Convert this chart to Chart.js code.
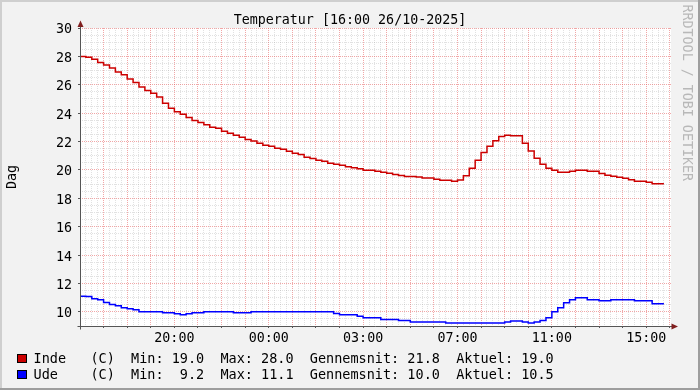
<!DOCTYPE html>
<html>
<head>
<meta charset="utf-8">
<title>Temperatur</title>
<script src="https://cdn.jsdelivr.net/npm/chart.js@4.4.1/dist/chart.umd.min.js"></script>
<style>
  html, body { margin: 0; padding: 0; background: #f2f2f2; }
  #wrap { width: 700px; height: 390px; }
</style>
</head>
<body>
<div id="wrap"><canvas id="tempChart" width="700" height="390"></canvas></div>
<script>
// one RRD step = 15 minutes, hours counted from 16:00 on 25/10
var stepHours = 0.25;

// Inde (C), one value per step
var inde = [
  28.0, 28.0, 27.93, 27.8, 27.57, 27.4, 27.18, 26.9, 26.7, 26.4,
  26.16, 25.84, 25.6, 25.4, 25.13, 24.7, 24.35, 24.1, 23.93, 23.7,
  23.48, 23.34, 23.18, 23.0, 22.93, 22.73, 22.59, 22.45, 22.3, 22.14,
  22.03, 21.88, 21.74, 21.67, 21.53, 21.46, 21.32, 21.18, 21.08, 20.9,
  20.8, 20.68, 20.61, 20.47, 20.4, 20.33, 20.23, 20.16, 20.09, 19.98,
  19.98, 19.91, 19.84, 19.77, 19.67, 19.6, 19.53, 19.53, 19.5, 19.43,
  19.43, 19.34, 19.27, 19.27, 19.2, 19.29, 19.58, 20.12, 20.68, 21.22,
  21.67, 22.05, 22.35, 22.45, 22.4, 22.4, 21.88, 21.34, 20.83, 20.4,
  20.12, 19.98, 19.84, 19.84, 19.91, 19.98, 19.98, 19.91, 19.91, 19.74,
  19.63, 19.56, 19.48, 19.41, 19.3, 19.2, 19.2, 19.13, 19.03
];

// Ude (C), one value per step
var ude = [
  10.99, 11.1, 11.08, 10.92, 10.85, 10.66, 10.52, 10.42, 10.28, 10.21,
  10.14, 10.0, 10.0, 10.0, 10.0, 9.93, 9.93, 9.86, 9.79, 9.86,
  9.93, 9.93, 10.0, 10.0, 10.0, 10.0, 10.0, 9.93, 9.93, 9.93,
  10.0, 10.0, 10.0, 10.0, 10.0, 10.0, 10.0, 10.0, 10.0, 10.0,
  10.0, 10.0, 10.0, 10.0, 9.88, 9.79, 9.79, 9.79, 9.69, 9.58,
  9.58, 9.58, 9.46, 9.46, 9.46, 9.39, 9.39, 9.29, 9.29, 9.29,
  9.29, 9.29, 9.29, 9.22, 9.22, 9.22, 9.22, 9.22, 9.22, 9.22,
  9.22, 9.22, 9.22, 9.29, 9.36, 9.36, 9.29, 9.22, 9.29, 9.39,
  9.58, 10.0, 10.28, 10.64, 10.85, 10.99, 10.99, 10.85, 10.85, 10.78,
  10.78, 10.85, 10.85, 10.85, 10.85, 10.78, 10.78, 10.78, 10.56
];

// x tick labels (clock time) at real hours after start; DST ends at 03:00
var hourLabels = ['20:00', '00:00', '03:00', '07:00', '11:00', '15:00'];
var hourLabelPos = [4, 8, 12, 16, 20, 24];
var yLabels = [10, 12, 14, 16, 18, 20, 22, 24, 26, 28, 30];

// legend: Min, Max, Gennemsnit, Aktuel
var seriesNames = ['Inde', 'Ude'];
var indeStats = [19.0, 28.0, 21.8, 19.0];
var udeStats = [9.2, 11.1, 10.0, 10.5];

var titleText = 'Temperatur [16:00 26/10-2025]';

var MONO = '"DejaVu Sans Mono", "Liberation Mono", monospace';
var MINOR = 'rgba(140,140,140,0.26)';
var MAJOR = 'rgba(228,80,80,0.5)';

function toPoints(vals) {
  var pts = vals.map(function (v, i) { return { x: i * stepHours, y: v }; });
  // close the last step
  pts.push({ x: vals.length * stepHours, y: vals[vals.length - 1] });
  return pts;
}

function fmt(v) {
  return v.toFixed(1).padStart(4);
}

function legendLine(name, s) {
  return name.padEnd(7) + '(C)  Min: ' + fmt(s[0]) + '  Max: ' + fmt(s[1]) +
    '  Gennemsnit: ' + fmt(s[2]) + '  Aktuel: ' + fmt(s[3]);
}

var rrdFrame = {
  id: 'rrdFrame',
  beforeDraw: function (chart) {
    var ctx = chart.ctx, a = chart.chartArea, W = chart.width, H = chart.height;
    ctx.save();
    ctx.fillStyle = '#f2f2f2';
    ctx.fillRect(0, 0, W, H);
    ctx.fillStyle = '#cfcfcf';
    ctx.fillRect(0, 0, W, 2);
    ctx.fillRect(0, 0, 2, H);
    ctx.fillStyle = '#9e9e9e';
    ctx.fillRect(0, H - 2, W, 2);
    ctx.fillRect(W - 2, 0, 2, H);
    ctx.fillStyle = '#ffffff';
    ctx.fillRect(a.left, a.top, a.right - a.left, a.bottom - a.top);
    ctx.restore();
  },
  afterDraw: function (chart) {
    var ctx = chart.ctx, a = chart.chartArea;
    var x0 = a.left + 0.5, y0 = a.bottom + 0.5;
    ctx.save();

    // axes
    ctx.strokeStyle = '#555';
    ctx.lineWidth = 1;
    ctx.beginPath();
    ctx.moveTo(x0, y0 + 3);
    ctx.lineTo(x0, a.top - 6);
    ctx.moveTo(x0 - 3, y0);
    ctx.lineTo(a.right + 2, y0);
    ctx.stroke();

    // arrows
    ctx.fillStyle = '#801f1f';
    ctx.beginPath();
    ctx.moveTo(x0, a.top - 7.5);
    ctx.lineTo(x0 - 3, a.top - 1);
    ctx.lineTo(x0 + 3, a.top - 1);
    ctx.closePath();
    ctx.fill();
    ctx.beginPath();
    ctx.moveTo(a.right + 7, y0);
    ctx.lineTo(a.right + 0.5, y0 - 3);
    ctx.lineTo(a.right + 0.5, y0 + 3);
    ctx.closePath();
    ctx.fill();

    // title
    ctx.fillStyle = '#000';
    ctx.font = '13.33px ' + MONO;
    ctx.textAlign = 'center';
    ctx.textBaseline = 'alphabetic';
    ctx.fillText(titleText, 350, 24);

    // vertical axis label
    ctx.save();
    ctx.translate(15.5, (a.top + a.bottom) / 2);
    ctx.rotate(-Math.PI / 2);
    ctx.fillText('Dag', 0, 0);
    ctx.restore();

    // watermark
    ctx.save();
    ctx.translate(683, 4.5);
    ctx.rotate(Math.PI / 2);
    ctx.textAlign = 'left';
    ctx.fillStyle = '#b8b8b8';
    ctx.fillText('RRDTOOL / TOBI OETIKER', 0, 0);
    ctx.restore();

    // legend
    var stats = [indeStats, udeStats];
    ctx.font = '13.5px ' + MONO;
    ctx.textAlign = 'left';
    chart.data.datasets.forEach(function (ds, r) {
      var by = 354 + r * 16;
      ctx.fillStyle = ds.borderColor;
      ctx.fillRect(17, by, 10, 9);
      ctx.strokeStyle = '#000';
      ctx.strokeRect(17.5, by + 0.5, 9, 8);
      ctx.fillStyle = '#000';
      ctx.fillText(legendLine(seriesNames[r], stats[r]), 33.5, by + 8.8);
    });
    ctx.restore();
  }
};

var ctx = document.getElementById('tempChart').getContext('2d');
var chart = new Chart(ctx, {
  type: 'line',
  data: {
    datasets: [{
      label: seriesNames[0],
      data: toPoints(inde),
      borderColor: '#cc0000',
      borderWidth: 1.5,
      stepped: 'after',
      pointRadius: 0,
      fill: false
    }, {
      label: seriesNames[1],
      data: toPoints(ude),
      borderColor: '#0000ff',
      borderWidth: 1.5,
      stepped: 'after',
      pointRadius: 0,
      fill: false
    }]
  },
  options: {
    responsive: false,
    animation: false,
    events: [],
    layout: { padding: { top: 28, right: 29, left: 0, bottom: 0 } },
    plugins: {
      legend: { display: false },
      title: { display: false },
      tooltip: { enabled: false }
    },
    scales: {
      x: {
        type: 'linear',
        min: 0,
        max: 25.05,
        afterBuildTicks: function (s) {
          var t = [];
          for (var k = 0; k <= 100; k++) t.push({ value: k * stepHours });
          s.ticks = t;
        },
        afterFit: function (s) { s.height = 64; },
        ticks: {
          autoSkip: false,
          maxRotation: 0,
          minRotation: 0,
          padding: 3,
          color: '#000',
          font: { family: MONO, size: 13.33 },
          callback: function (v) {
            var k = hourLabelPos.indexOf(v);
            return k < 0 ? '' : hourLabels[k];
          }
        },
        grid: {
          lineWidth: 1,
          tickLength: 2,
          color: function (c) { return Number.isInteger(c.tick.value) ? MAJOR : MINOR; },
          tickColor: function (c) { return Number.isInteger(c.tick.value) ? '#555' : 'rgba(0,0,0,0)'; }
        },
        border: { display: false, dash: [1, 1] }
      },
      y: {
        min: 9,
        max: 30,
        afterBuildTicks: function (s) {
          var t = [];
          for (var v = 9; v <= 30; v += 0.5) t.push({ value: v });
          s.ticks = t;
        },
        afterFit: function (s) { s.width = 80; },
        ticks: {
          autoSkip: false,
          padding: 6,
          labelOffset: 2,
          color: '#000',
          font: { family: MONO, size: 13.33 },
          callback: function (v) { return yLabels.indexOf(v) < 0 ? '' : String(v); }
        },
        grid: {
          lineWidth: 1,
          tickLength: 2,
          color: function (c) { return c.tick.value % 2 === 0 ? MAJOR : MINOR; },
          tickColor: function (c) { return c.tick.value % 2 === 0 ? '#555' : 'rgba(0,0,0,0)'; }
        },
        border: { display: false, dash: [1, 1] }
      }
    }
  },
  plugins: [rrdFrame]
});
</script>
</body>
</html>
